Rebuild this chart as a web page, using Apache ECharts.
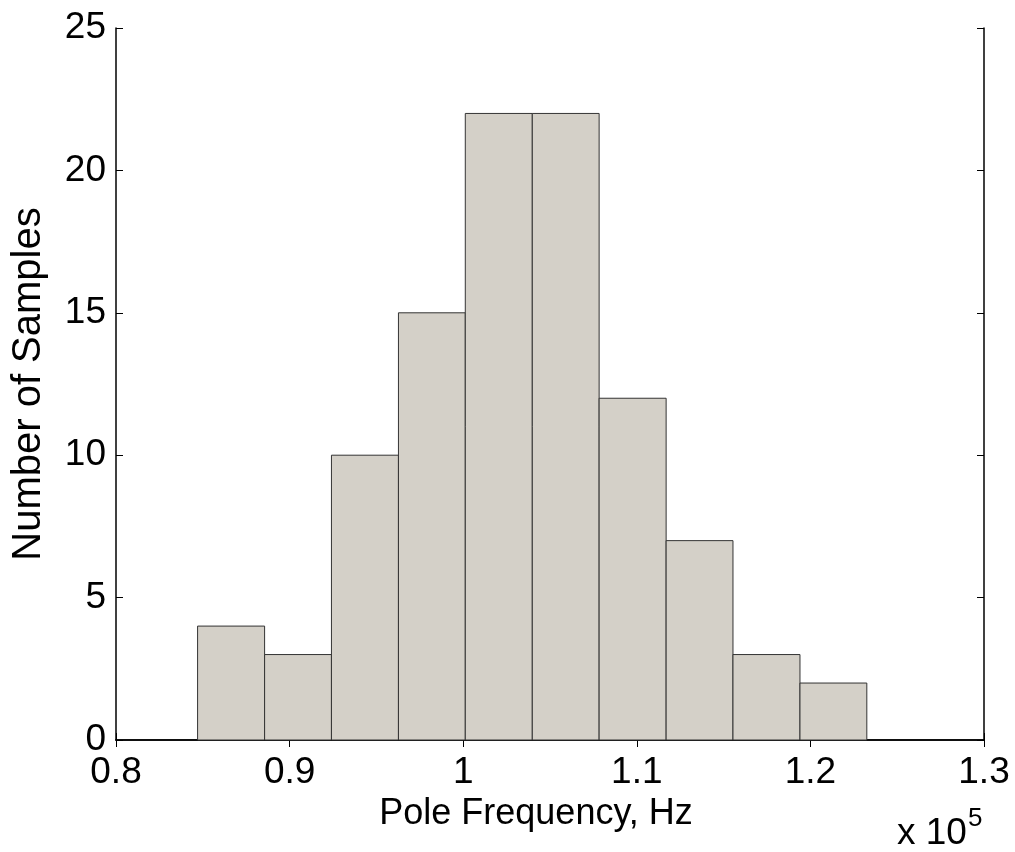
<!DOCTYPE html>
<html>
<head>
<meta charset="utf-8">
<script src="https://cdn.jsdelivr.net/npm/echarts@6/dist/echarts.min.js"></script>
<style>html,body{margin:0;padding:0;background:#fff;}#c{width:1015px;height:852px;}</style>
</head>
<body>
<div id="c"></div>
<script>
// Histogram bin edges (units of 1e5 Hz) and counts
var binEdges = [0.8470, 0.8856, 0.9241, 0.9627, 1.0012, 1.0398, 1.0783, 1.1169, 1.1554, 1.1940, 1.2325];
var counts = [4, 3, 10, 15, 22, 22, 12, 7, 3, 2];
var xTickLabels = ['0.8', '0.9', '1', '1.1', '1.2', '1.3'];
var yTickLabels = ['0', '5', '10', '15', '20', '25'];
var xTitle = 'Pole Frequency, Hz';
var yTitle = 'Number of Samples';
var exponentBase = 'x 10';
var exponentPower = '5';

var data = counts.map(function (c, i) { return [binEdges[i], binEdges[i + 1], c]; });
var FONT = 'Liberation Sans, Arial, sans-serif';

var chart = echarts.init(document.getElementById('c'));
var tickStyle = { show: true, inside: true, length: 7, lineStyle: { color: '#000', width: 1 } };
var lineStyle = { show: true, lineStyle: { color: '#000', width: 1.5 } };
chart.setOption({
  backgroundColor: '#fff',
  animation: false,
  grid: { left: 116, right: 31, top: 28, bottom: 112, containLabel: false, outerBoundsMode: 'none' },
  xAxis: [{
    type: 'value', min: 0.8, max: 1.3, interval: 0.1, position: 'bottom',
    axisLine: lineStyle, axisTick: tickStyle, splitLine: { show: false },
    axisLabel: { fontSize: 37, fontFamily: FONT, color: '#000', margin: 14,
      formatter: function (v) { return xTickLabels[Math.round((v - 0.8) / 0.1)]; } },
    name: xTitle, nameLocation: 'middle', nameGap: 47,
    nameTextStyle: { fontSize: 36, fontFamily: FONT, color: '#000', padding: [0, 28, 0, 0] }
  }, {
    type: 'value', min: 0.8, max: 1.3, interval: 0.1, position: 'top',
    axisLine: lineStyle, axisTick: tickStyle, axisLabel: { show: false }, splitLine: { show: false }
  }],
  yAxis: [{
    type: 'value', min: 0, max: 25, interval: 5, position: 'left',
    axisLine: lineStyle, axisTick: tickStyle, splitLine: { show: false },
    axisLabel: { fontSize: 37, fontFamily: FONT, color: '#000', margin: 10,
      formatter: function (v) { return yTickLabels[Math.round(v / 5)]; } },
    name: yTitle, nameLocation: 'middle', nameGap: 67, nameRotate: 90,
    nameTextStyle: { fontSize: 40, fontFamily: FONT, color: '#000' }
  }, {
    type: 'value', min: 0, max: 25, interval: 5, position: 'right',
    axisLine: lineStyle, axisTick: tickStyle, axisLabel: { show: false }, splitLine: { show: false }
  }],
  series: [{
    type: 'custom',
    xAxisIndex: 0, yAxisIndex: 0,
    data: data,
    encode: { x: [0, 1], y: 2 },
    renderItem: function (params, api) {
      var p0 = api.coord([api.value(0), api.value(2)]);
      var p1 = api.coord([api.value(1), 0]);
      return {
        type: 'rect',
        shape: { x: p0[0], y: p0[1], width: p1[0] - p0[0], height: p1[1] - p0[1] },
        style: { fill: '#d4d0c8', stroke: '#333', lineWidth: 1 }
      };
    }
  }],
  graphic: [
    { type: 'text', left: 897, top: 815, style: { text: exponentBase, font: '37px ' + FONT, fill: '#000' } },
    { type: 'text', left: 968, top: 806, style: { text: exponentPower, font: '26px ' + FONT, fill: '#000' } }
  ]
});
</script>
</body>
</html>
